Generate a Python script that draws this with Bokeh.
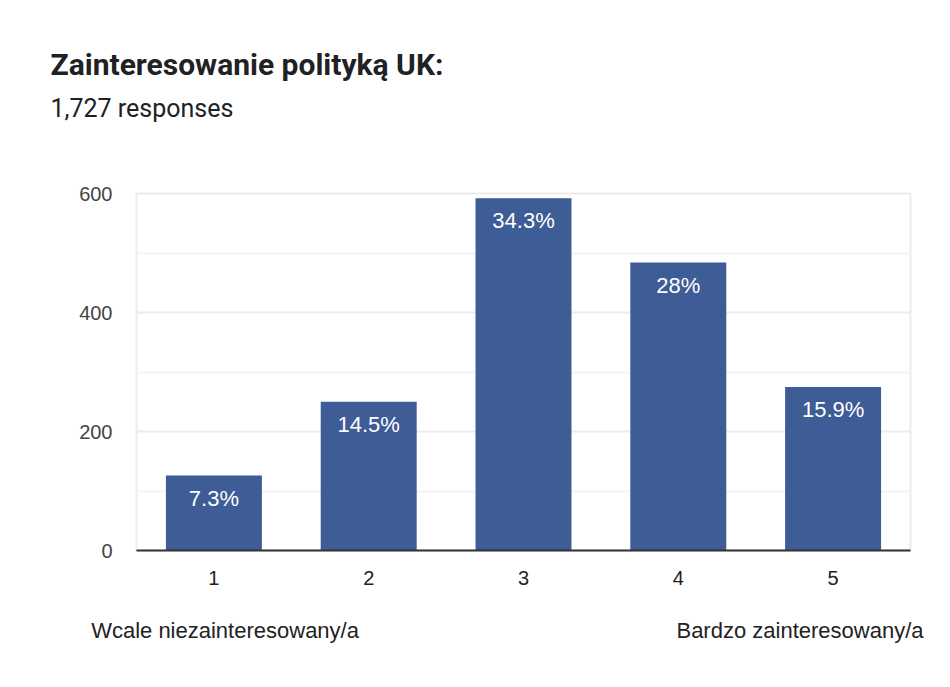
from bokeh.plotting import figure
from bokeh.models import ColumnDataSource, Title, FixedTicker, Range1d, LinearAxis
from bokeh.core.properties import value
from bokeh.embed import file_html
from bokeh.resources import INLINE

title_text = "Zainteresowanie polityką UK:"
subtitle_text = "1,727 responses"
categories = ["1", "2", "3", "4", "5"]
counts = [126, 250, 592, 484, 275]
percent_labels = ["7.3%", "14.5%", "34.3%", "28%", "15.9%"]
y_ticks = [0, 200, 400, 600]
y_minor = [100, 300, 500]
low_label = "Wcale niezainteresowany/a"
high_label = "Bardzo zainteresowany/a"

xpos = [i + 1 for i in range(len(categories))]

W, H = 934, 671
p = figure(width=W, height=H, output_backend="svg", toolbar_location=None,
           x_range=Range1d(0.5, len(categories) + 0.5),
           y_range=Range1d(0, 600),
           min_border_left=136, min_border_right=24, min_border_top=193, min_border_bottom=121)
p.background_fill_color = "white"
p.border_fill_color = "white"
p.outline_line_color = "#ececec"
p.outline_line_width = 2

src = ColumnDataSource(dict(x=xpos, n=counts, lab=percent_labels))
p.vbar(x="x", top="n", width=0.62, source=src, fill_color="#3e5c95", line_color=None)
p.text(x="x", y="n", text="lab", source=src, text_color="white",
       text_font=value("Liberation Sans"), text_font_size="22px",
       text_align="center", text_baseline="top", y_offset=10)

p.xgrid.grid_line_color = None
p.ygrid.grid_line_color = "#ebebeb"
p.ygrid.grid_line_width = 2
p.ygrid.minor_grid_line_color = "#f4f4f4"
p.ygrid.minor_grid_line_width = 2

p.yaxis.ticker = FixedTicker(ticks=y_ticks, minor_ticks=y_minor)
p.yaxis.axis_line_color = None
p.yaxis.major_tick_line_color = None
p.yaxis.minor_tick_line_color = None
p.yaxis.major_label_text_font = "Liberation Sans"
p.yaxis.major_label_text_font_size = "20px"
p.yaxis.major_label_text_color = "#444444"
p.yaxis.major_label_standoff = 18

p.xaxis.ticker = FixedTicker(ticks=xpos, minor_ticks=[])
p.xaxis.major_label_overrides = {x: c for x, c in zip(xpos, categories)}
p.xaxis.axis_line_color = "#333333"
p.xaxis.axis_line_width = 2
p.xaxis.major_tick_line_color = None
p.xaxis.minor_tick_line_color = None
p.xaxis.major_label_text_font = "Liberation Sans"
p.xaxis.major_label_text_font_size = "20px"
p.xaxis.major_label_text_color = "#222222"
p.xaxis.major_label_standoff = 14

# end-point captions as a second, unlined axis below the category axis
cap_ticks = [1.072, 4.786]
cap_axis = LinearAxis(ticker=FixedTicker(ticks=cap_ticks, minor_ticks=[]),
                      major_label_overrides={cap_ticks[0]: low_label, cap_ticks[1]: high_label})
cap_axis.axis_line_color = None
cap_axis.major_tick_line_color = None
cap_axis.minor_tick_line_color = None
cap_axis.major_label_text_font = "Liberation Sans"
cap_axis.major_label_text_font_size = "22px"
cap_axis.major_label_text_color = "#222222"
cap_axis.major_label_standoff = 24
p.add_layout(cap_axis, "below")

# spacer between the frame and the subtitle
spacer = Title(text=" ", text_font_size="2px", standoff=67)
p.add_layout(spacer, "above")

sub = Title(text=subtitle_text, align="left", offset=-86, standoff=0,
            text_font="Roboto", text_font_style="normal", text_font_size="25px",
            text_color="#202124")
p.add_layout(sub, "above")

# main title (outermost)
p.title.text = title_text
p.title.align = "left"
p.title.offset = -86
p.title.text_font = "Roboto"
p.title.text_font_style = "bold"
p.title.text_font_size = "30px"
p.title.text_color = "#202124"
p.title.standoff = 20

open("out.html", "w").write(file_html(p, INLINE))
